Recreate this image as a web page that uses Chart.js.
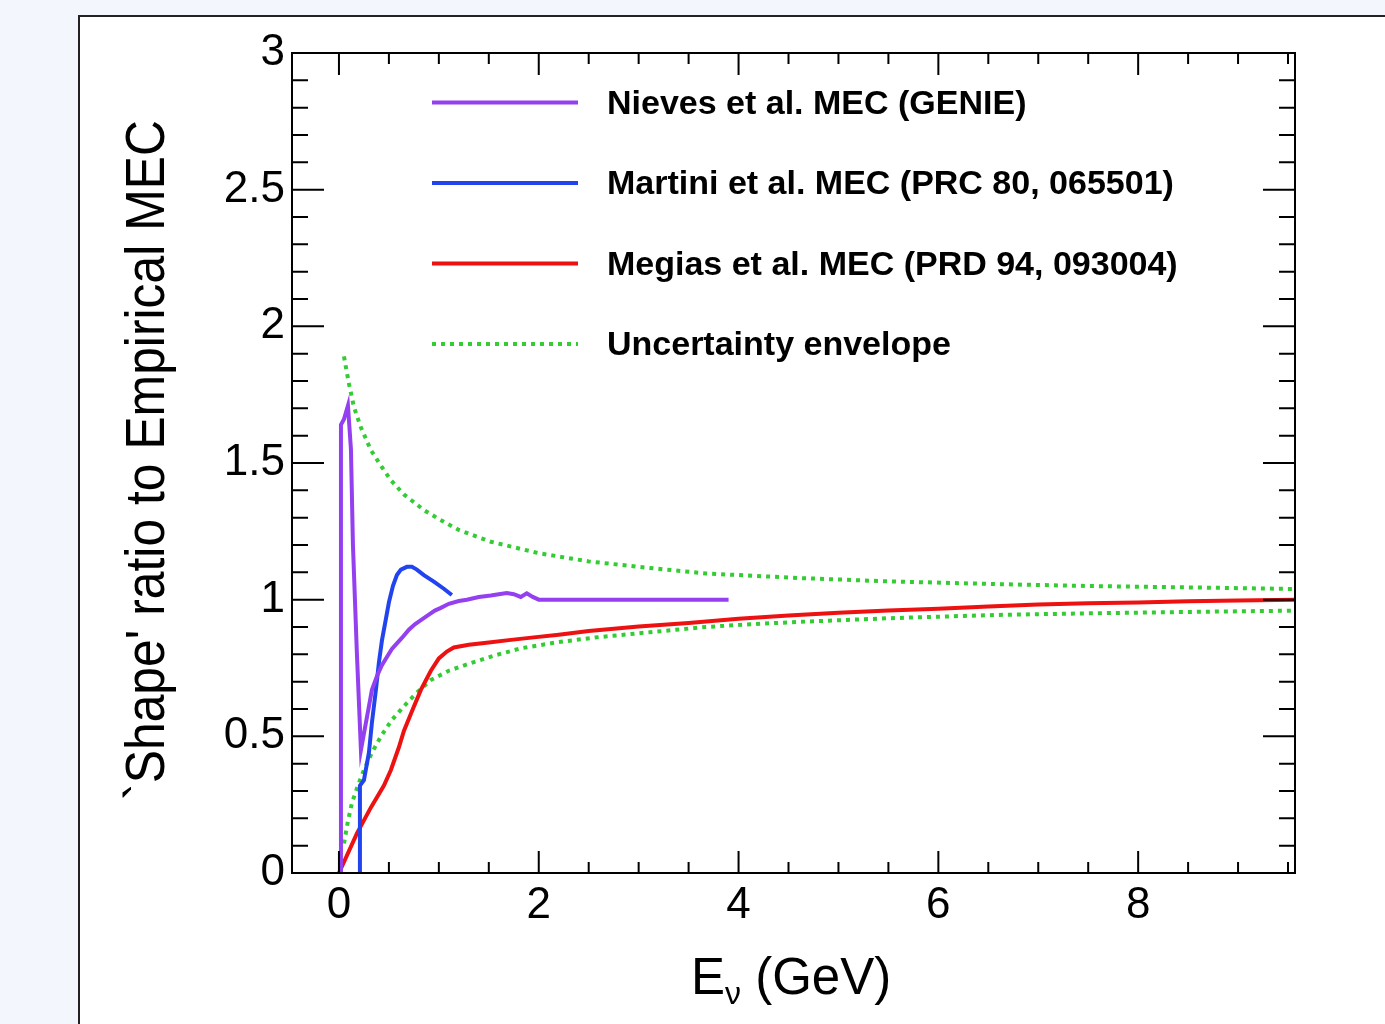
<!DOCTYPE html>
<html>
<head>
<meta charset="utf-8">
<script src="https://cdn.jsdelivr.net/npm/chart.js@4.4.0/dist/chart.umd.min.js"></script>
<style>
  body { margin: 0; background: #f3f6fc; overflow: hidden; }
  #panel { position: absolute; left: 78px; top: 15px; width: 1400px; height: 1100px; background: #fff;
           border-left: 2px solid #222; border-top: 2px solid #222; }
  #myChart { position: absolute; left: 0; top: 0; }
</style>
</head>
<body>
<div id="panel"></div>
<canvas id="myChart" width="1385" height="1024"></canvas>
<script>
// values
const nievesE = [0.0, 0.02, 0.02, 0.05, 0.09, 0.12, 0.14, 0.18, 0.22, 0.26, 0.30, 0.33, 0.38, 0.43, 0.48, 0.53, 0.58, 0.63,
                 0.70, 0.76, 0.82, 0.90, 0.96, 1.02, 1.10, 1.20, 1.28, 1.40, 1.52, 1.60, 1.68, 1.75, 1.82, 1.88, 1.94, 2.0, 3.0, 3.9];
const nievesR = [0.0, 0.0, 1.64, 1.66, 1.71, 1.55, 1.20, 0.80, 0.45, 0.53, 0.61, 0.67, 0.72, 0.76, 0.79, 0.82, 0.84, 0.86,
                 0.89, 0.91, 0.925, 0.945, 0.96, 0.97, 0.985, 0.995, 1.0, 1.01, 1.015, 1.02, 1.024, 1.02, 1.01, 1.023, 1.01, 1.0, 1.0, 1.0];

const martiniE = [0.21, 0.21, 0.25, 0.27, 0.30, 0.33, 0.37, 0.40, 0.43, 0.47, 0.50, 0.54, 0.58, 0.62, 0.68, 0.73, 0.78, 0.85, 0.95, 1.05, 1.13];
const martiniR = [0.0, 0.32, 0.34, 0.38, 0.44, 0.55, 0.67, 0.77, 0.85, 0.93, 0.99, 1.05, 1.09, 1.11, 1.12, 1.12, 1.11, 1.09, 1.066, 1.04, 1.017];

const megiasE = [0.0, 0.18, 0.32, 0.45, 0.52, 0.60, 0.65, 0.74, 0.82, 0.92, 1.0, 1.08, 1.15, 1.3, 1.5, 1.7, 1.95, 2.2, 2.5, 3.0,
                 3.5, 4.0, 4.5, 5.0, 5.5, 6.0, 6.5, 7.0, 7.5, 8.0, 8.5, 9.0, 9.57];
const megiasR = [0.0, 0.145, 0.24, 0.32, 0.377, 0.46, 0.52, 0.60, 0.67, 0.74, 0.785, 0.81, 0.825, 0.835, 0.843, 0.852, 0.862, 0.872, 0.885, 0.902,
                 0.915, 0.93, 0.942, 0.952, 0.96, 0.967, 0.975, 0.982, 0.987, 0.99, 0.994, 0.997, 1.0];

const envUpE = [0.05, 0.10, 0.15, 0.22, 0.32, 0.42, 0.52, 0.65, 0.85, 1.0, 1.2, 1.52, 2.0, 2.5, 3.0, 3.67, 4.0, 4.62, 5.5, 6.57, 7.5, 8.5, 9.57];
const envUpR = [1.89, 1.79, 1.705, 1.63, 1.547, 1.49, 1.437, 1.385, 1.328, 1.295, 1.255, 1.212, 1.17, 1.14, 1.12, 1.096, 1.09, 1.079, 1.067, 1.057, 1.05, 1.045, 1.039];

const envLoE = [0.05, 0.09, 0.13, 0.19, 0.25, 0.33, 0.42, 0.53, 0.65, 0.78, 0.92, 1.1, 1.32, 1.55, 1.82, 2.2, 2.6, 3.0, 3.67, 4.12, 4.62, 5.5, 6.57, 7.5, 8.5, 9.57];
const envLoR = [0.108, 0.19, 0.256, 0.32, 0.377, 0.44, 0.5, 0.56, 0.61, 0.66, 0.706, 0.74, 0.768, 0.795, 0.822, 0.845, 0.863, 0.877, 0.90, 0.91, 0.919, 0.932, 0.944, 0.95, 0.955, 0.96];

const seriesNames = ['Nieves et al. MEC (GENIE)', 'Martini et al. MEC (PRC 80, 065501)', 'Megias et al. MEC (PRD 94, 093004)', 'Uncertainty envelope'];
const xTickLabels = [0, 2, 4, 6, 8];
const yTickLabels = [0, 0.5, 1, 1.5, 2, 2.5, 3];

const pts = (xs, ys) => xs.map((x, i) => ({ x: x, y: ys[i] }));
const FONT = '"Liberation Sans", Arial, sans-serif';

const solid = (label, color, xs, ys) => ({
  label: label, data: pts(xs, ys), borderColor: color, borderWidth: 4,
  pointRadius: 0, tension: 0, fill: false
});
const dotted = (label, xs, ys) => ({
  label: label, data: pts(xs, ys), borderColor: '#33cc33', borderWidth: 4,
  borderDash: [4, 5], borderCapStyle: 'butt', pointRadius: 0, tension: 0, fill: false
});

// frame, inside ticks, axis titles and legend like the ROOT canvas
const decor = {
  id: 'decor',
  afterDatasetsDraw(chart) {
    const { ctx, chartArea: a, scales: { x, y } } = chart;
    ctx.save();
    ctx.strokeStyle = '#000';
    ctx.lineWidth = 2;
    ctx.strokeRect(a.left, a.top, a.right - a.left, a.bottom - a.top);

    ctx.beginPath();
    for (let v = 0; v <= x.max; v += 0.5) {
      const px = x.getPixelForValue(v);
      const len = xTickLabels.includes(v) ? 22 : 11;
      ctx.moveTo(px, a.bottom); ctx.lineTo(px, a.bottom - len);
      ctx.moveTo(px, a.top); ctx.lineTo(px, a.top + len);
    }
    for (let i = 1; i < 30; i++) {
      const py = y.getPixelForValue(i / 10);
      const len = (i % 5 === 0) ? 32 : 16;
      ctx.moveTo(a.left, py); ctx.lineTo(a.left + len, py);
      ctx.moveTo(a.right, py); ctx.lineTo(a.right - len, py);
    }
    ctx.stroke();

    // legend
    const rowY = [102.5, 183, 263.5, 344];
    chart.data.datasets.slice(0, 4).forEach((ds, i) => {
      ctx.beginPath();
      ctx.strokeStyle = ds.borderColor;
      ctx.lineWidth = 4;
      ctx.setLineDash(ds.borderDash || []);
      ctx.moveTo(432, rowY[i]); ctx.lineTo(578, rowY[i]);
      ctx.stroke();
      ctx.setLineDash([]);
      ctx.fillStyle = '#000';
      ctx.font = 'bold 34px ' + FONT;
      ctx.textAlign = 'left';
      ctx.textBaseline = 'alphabetic';
      ctx.fillText(ds.label, 607, rowY[i] + 11);
    });

    // x title with subscript
    ctx.fillStyle = '#000';
    ctx.textBaseline = 'alphabetic';
    ctx.font = '51px ' + FONT;
    let tx = 691;
    ctx.fillText('E', tx, 994);
    tx += ctx.measureText('E').width;
    ctx.font = '32px ' + FONT;
    ctx.fillText('\u03bd', tx, 1004);
    tx += ctx.measureText('\u03bd').width;
    ctx.font = '51px ' + FONT;
    ctx.fillText(' (GeV)', tx, 994);

    // y title
    ctx.translate(164, 460);
    ctx.rotate(-Math.PI / 2);
    ctx.scale(0.89, 1);
    ctx.font = '56px ' + FONT;
    ctx.textAlign = 'center';
    ctx.fillText("`Shape' ratio to Empirical MEC", 0, 0);
    ctx.restore();
  }
};

const ctx = document.getElementById('myChart').getContext('2d');
new Chart(ctx, {
  type: 'line',
  data: {
    datasets: [
      solid(seriesNames[0], '#9440f0', nievesE, nievesR),
      solid(seriesNames[1], '#2244ee', martiniE, martiniR),
      solid(seriesNames[2], '#ee1111', megiasE, megiasR),
      dotted(seriesNames[3], envUpE, envUpR),
      dotted(seriesNames[3], envLoE, envLoR)
    ]
  },
  options: {
    responsive: false,
    animation: false,
    layout: { padding: { left: 0, top: 53, right: 90, bottom: 0 } },
    plugins: { legend: { display: false }, tooltip: { enabled: false } },
    scales: {
      x: {
        type: 'linear', min: -0.47, max: 9.57,
        grid: { display: false, drawTicks: false }, border: { display: false },
        afterBuildTicks: s => { s.ticks = xTickLabels.map(v => ({ value: v })); },
        afterFit: s => { s.height = 151; },
        ticks: { autoSkip: false, maxRotation: 0, padding: 6, color: '#000',
                 font: { family: FONT, size: 44 }, callback: v => String(v) }
      },
      y: {
        min: 0, max: 3,
        grid: { display: false, drawTicks: false }, border: { display: false },
        afterBuildTicks: s => { s.ticks = yTickLabels.map(v => ({ value: v })); },
        afterFit: s => { s.width = 292; },
        ticks: { autoSkip: false, padding: 7, color: '#000',
                 font: { family: FONT, size: 44 }, callback: v => String(v) }
      }
    }
  },
  plugins: [decor]
});
</script>
</body>
</html>
